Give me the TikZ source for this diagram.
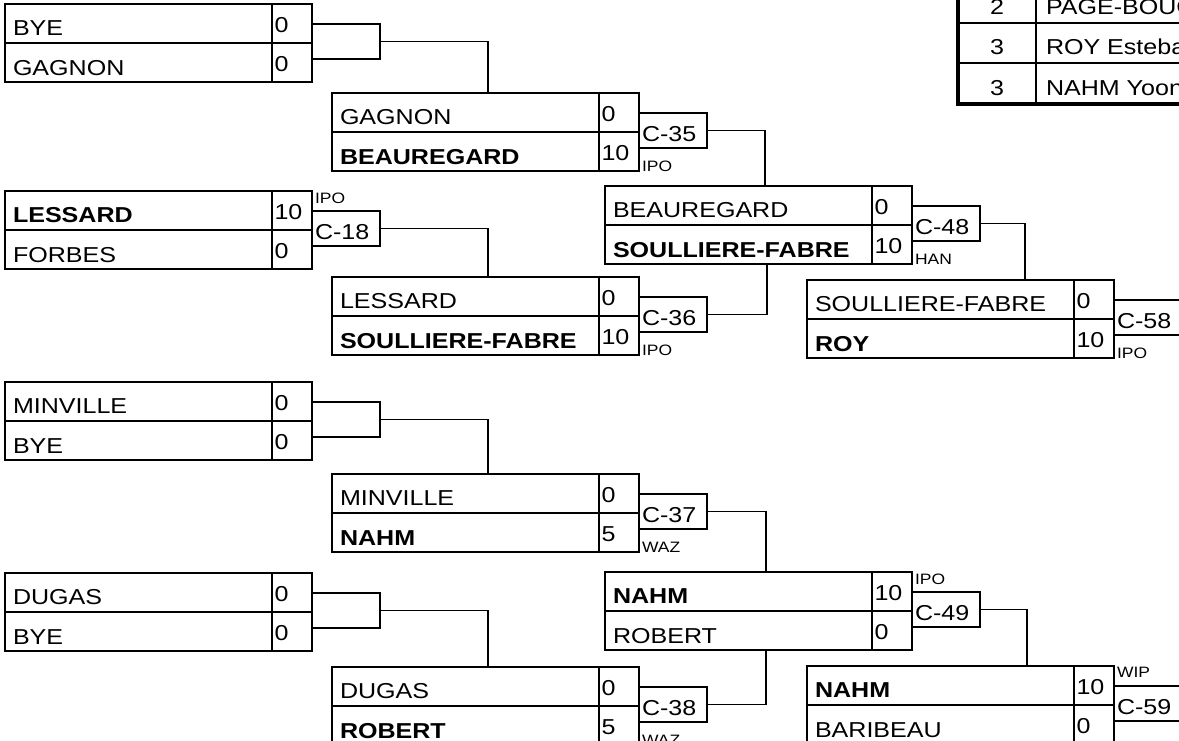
\documentclass[tikz,border=0pt]{standalone}
\usepackage{fontspec}
\setmainfont{Liberation Sans}[FakeStretch=1.16]
\usetikzlibrary{calc}
\tikzset{
  frame/.style={draw=black, line width=1pt, minimum width=230.25pt, minimum height=58.5pt, inner sep=0pt, outer sep=0pt, anchor=north west},
  nm/.style={font=\fontsize{16.2}{19}\selectfont, inner sep=0pt, outer sep=0pt, anchor=base west},
  tbl/.style={font=\fontsize{16.2}{19}\selectfont, inner sep=0pt, outer sep=0pt},
  tag/.style={draw=black, line width=1pt, minimum width=51pt, minimum height=26.25pt, inner sep=0pt, outer sep=0pt, anchor=north west},
  small/.style={font=\fontsize{11.3}{13}\selectfont, inner sep=0pt, outer sep=0pt, anchor=base west},
  wire/.style={draw=black, line width=1pt},
  middiv/.style={draw=black, line width=1.6pt},
}
\newcommand\matchbox[8]{%
  \node[frame] (#1) at (#2,#3) {};
  \draw[wire] ($(#1.north west)+(267,0)$) -- ($(#1.south west)+(267,0)$);
  \draw[middiv] (#1.west) -- (#1.east);
  \node[nm] (#1-n1) at ($(#1.north west)+(8,31)$) {#4};
  \node[nm] (#1-s1) at ($(#1.north west)+(269.5,28)$) {#5};
  \node[nm] (#1-n2) at ($(#1.north west)+(8,71)$) {#6};
  \node[nm] (#1-s2) at ($(#1.north west)+(269.5,67)$) {#7};
  \node[tag] (#1-t) at ($(#1.north west)+(307,20)$) {};
  \node[nm] (#1-tt) at ($(#1-t.north west)+(3,28)$) {#8};
}
\begin{document}
\begin{tikzpicture}[x=0.75pt,y=-0.75pt]
\useasboundingbox (0,0) rectangle (1179,740);
\fill[white] (0,0) rectangle (1179,740);
\clip (0,0) rectangle (1179,740);

% round 1
\matchbox{a}{5}{4}{BYE}{0}{GAGNON}{0}{}
\matchbox{b}{5}{191}{\bfseries LESSARD}{10}{FORBES}{0}{C-18}
\matchbox{c}{5}{382}{MINVILLE}{0}{BYE}{0}{}
\matchbox{d}{5}{573}{DUGAS}{0}{BYE}{0}{}
% round 2
\matchbox{e}{332}{93}{GAGNON}{0}{\bfseries BEAUREGARD}{10}{C-35}
\matchbox{f}{332}{277}{LESSARD}{0}{\bfseries SOULLIERE-FABRE}{10}{C-36}
\matchbox{g}{332}{474}{MINVILLE}{0}{\bfseries NAHM}{5}{C-37}
\matchbox{h}{332}{667}{DUGAS}{0}{\bfseries ROBERT}{5}{C-38}
% round 3
\matchbox{i}{605}{186}{BEAUREGARD}{0}{\bfseries SOULLIERE-FABRE}{10}{C-48}
\matchbox{j}{605}{572}{\bfseries NAHM}{10}{ROBERT}{0}{C-49}
% round 4
\matchbox{k}{807}{280}{SOULLIERE-FABRE}{0}{\bfseries ROY}{10}{C-58}
\matchbox{l}{807}{666}{\bfseries NAHM}{10}{BARIBEAU}{0}{C-59}

% result labels
\node[small] (b-lab) at ($(b.north west)+(310,12.5)$) {IPO};
\node[small] (e-lab) at ($(e.north west)+(310,78)$) {IPO};
\node[small] (f-lab) at ($(f.north west)+(310,78)$) {IPO};
\node[small] (g-lab) at ($(g.north west)+(310,78)$) {WAZ};
\node[small] (h-lab) at ($(h.north west)+(310,78)$) {WAZ};
\node[small] (i-lab) at ($(i.north west)+(310,78)$) {HAN};
\node[small] (j-lab) at ($(j.north west)+(310,12)$) {IPO};
\node[small] (k-lab) at ($(k.north west)+(310,78)$) {IPO};
\node[small] (l-lab) at ($(l.north west)+(310,11.5)$) {WIP};

% connectors
\coordinate (e-in) at (488,93);
\coordinate (f-in) at (488,277);
\coordinate (g-in) at (488,474);
\coordinate (h-in) at (488,667);
\coordinate (i-in) at (765,186);
\coordinate (i-in2) at (767,264);
\coordinate (j-in) at (766,572);
\coordinate (j-in2) at (766,650);
\coordinate (k-in) at (1025,280);
\coordinate (l-in) at (1027,666);
\draw[wire] (a-t.east) -| (e-in);
\draw[wire] (b-t.east) -| (f-in);
\draw[wire] (c-t.east) -| (g-in);
\draw[wire] (d-t.east) -| (h-in);
\draw[wire] (e-t.east) -| (i-in);
\draw[wire] (f-t.east) -| (i-in2);
\draw[wire] (g-t.east) -| (j-in);
\draw[wire] (h-t.east) -| (j-in2);
\draw[wire] (i-t.east) -| (k-in);
\draw[wire] (j-t.east) -| (l-in);

% standings table (cut by the picture edge)
\draw[line width=1.2pt] (958,23) -- (1185,23) (958,63) -- (1185,63) (1036,-5) -- (1036,104);
\draw[line width=2.4pt] (958,-5) -- (958,104) -- (1185,104);
\node[tbl, anchor=base] (r1) at (997,14) {2};
\node[tbl, anchor=base] (r2) at (997,54) {3};
\node[tbl, anchor=base] (r3) at (997,95) {3};
\node[tbl, anchor=base west] (n1) at (1046,14) {PAGE-BOUC};
\node[tbl, anchor=base west] (n2) at (1046,54) {ROY Esteba};
\node[tbl, anchor=base west] (n3) at (1046,95) {NAHM Yoon};
\end{tikzpicture}
\end{document}
